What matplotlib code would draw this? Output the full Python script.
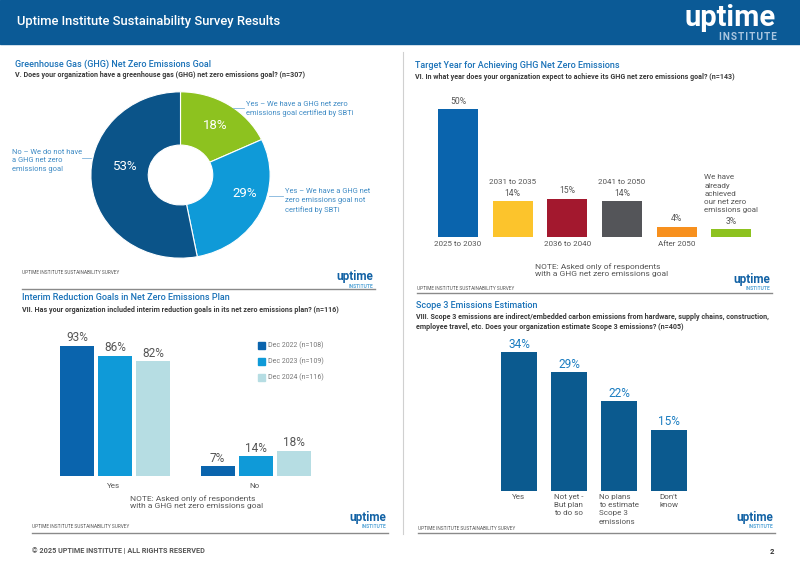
import numpy as np
import matplotlib.pyplot as plt
from matplotlib.patches import Rectangle
from matplotlib.lines import Line2D

plt.rcParams['font.family'] = ['Roboto', 'DejaVu Sans']

# --- data ---
ghg_labels = ['Yes – We have a GHG net zero\nemissions goal certified by SBTi',
              'Yes – We have a GHG net\nzero emissions goal not\ncertified by SBTi',
              'No – We do not have\na GHG net zero\nemissions goal']
ghg_vals = [18, 29, 53]
ghg_colors = ['#8dc21f', '#0f9ad8', '#0b5489']

year_cats = ['2025 to 2030', '2031 to 2035', '2036 to 2040', '2041 to 2050', 'After 2050',
             'We have\nalready\nachieved\nour net zero\nemissions goal']
year_vals = [50, 14, 15, 14, 4, 3]
year_colors = ['#0a64ad', '#fcc42c', '#a3182e', '#545559', '#f7901e', '#8dc21f']

interim_cats = ['Yes', 'No']
dec2022 = [93, 7]
dec2023 = [86, 14]
dec2024 = [82, 18]
interim_series = ['Dec 2022 (n=108)', 'Dec 2023 (n=109)', 'Dec 2024 (n=116)']
interim_colors = ['#0a64ad', '#0f9ad8', '#b6dde3']

scope_cats = ['Yes', 'Not yet -\nBut plan\nto do so', 'No plans\nto estimate\nScope 3\nemissions', "Don't\nknow"]
scope_vals = [34, 29, 22, 15]

HEAD = '#0b5a96'
BLUE_T = '#1a72b8'
SUB = '#3a3a3a'
GRAY = '#555555'

W, H = 800, 566
fig = plt.figure(figsize=(8, 5.66), dpi=100)


def fx(x):
    return x / W


def fy(y):
    return 1 - y / H


def box(x0, y0, x1, y1):
    return [x0 / W, 1 - y1 / H, (x1 - x0) / W, (y1 - y0) / H]


def txt(x, y, s, **kw):
    kw.setdefault('va', 'center')
    fig.text(fx(x), fy(y), s, **kw)


def hline(x0, x1, y, color='#8a8a8a', lw=1.0):
    fig.add_artist(Line2D([fx(x0), fx(x1)], [fy(y), fy(y)], color=color, lw=lw))


def spaced(s):
    return '\u200a'.join(s)


def footer(x0, x1, y_line, y_text, y_logo):
    txt(x0, y_text, 'UPTIME INSTITUTE SUSTAINABILITY SURVEY', fontsize=3.4, color='#555555')
    txt(x1 - 2, y_logo, 'uptime', fontsize=8.5, fontweight='bold', color='#1262a5', ha='right')
    txt(x1 - 2, y_logo + 9, 'INSTITUTE', fontsize=3.6, fontweight='bold', color='#5aa7d8', ha='right')
    hline(x0, x1, y_line)


# header
fig.add_artist(Rectangle((0, fy(44)), 1, 44 / H, transform=fig.transFigure, color=HEAD, zorder=0))
txt(17, 22, 'Uptime Institute Sustainability Survey Results', fontsize=9.4, fontweight='medium', color='white')
txt(776, 18, 'uptime', fontsize=21, fontweight='bold', color='white', ha='right')
txt(777, 37, spaced('INSTITUTE'), fontsize=7.2, fontweight='bold', color='#a9c6e0', ha='right')

# divider
fig.add_artist(Line2D([fx(403), fx(403)], [fy(52), fy(534)], color='#d0d0d0', lw=0.8))

# ---------- panel 1: donut ----------
txt(15, 64, 'Greenhouse Gas (GHG) Net Zero Emissions Goal', fontsize=6.5, fontweight='medium', color=BLUE_T)
txt(15, 75, 'V. Does your organization have a greenhouse gas (GHG) net zero emissions goal? (n=307)',
    fontsize=5.1, fontweight='bold', color=SUB)

ax1 = fig.add_axes(box(90, 91, 271, 259))
ax1.pie(ghg_vals, colors=ghg_colors, startangle=90, counterclock=False,
        wedgeprops=dict(width=0.64, edgecolor='white', linewidth=0.8))
ax1.set_aspect('auto')
ax1.set_xlim(-1.01, 1.01)
ax1.set_ylim(-1.01, 1.01)
pct_pos = [(0.385, 0.59), (0.72, -0.217), (-0.62, 0.108)]
for (px, py), v in zip(pct_pos, ghg_vals):
    ax1.text(px, py, f'{v}%', ha='center', va='center', fontsize=9.5, color='white')

lab_col = '#3d8ac4'
txt(246, 109, ghg_labels[0], fontsize=5.4, color=lab_col, linespacing=1.35)
hline(233, 244, 108, color='#7fb3dc', lw=0.6)
txt(285, 201, ghg_labels[1], fontsize=5.4, color=lab_col, linespacing=1.35)
hline(269, 283, 196, color='#7fb3dc', lw=0.6)
txt(12, 161, ghg_labels[2], fontsize=5.4, color=lab_col, linespacing=1.35)
hline(82, 91, 158, color='#7fb3dc', lw=0.6)

footer(22, 375, 289, 273, 277)

# ---------- panel 2: target year ----------
txt(415, 66, 'Target Year for Achieving GHG Net Zero Emissions', fontsize=6.5, fontweight='medium', color=BLUE_T)
txt(415, 77, 'VI. In what year does your organization expect to achieve its GHG net zero emissions goal? (n=143)',
    fontsize=5.1, fontweight='bold', color=SUB)

ax2 = fig.add_axes(box(430.6, 95, 758.8, 280))
ax2.axis('off')
ax2.set_xlim(-0.5, 5.5)
ax2.set_ylim(-43 / 2.56, 142 / 2.56)
x2 = np.arange(len(year_vals))
ax2.bar(x2, year_vals, width=0.73, color=year_colors)
for i, v in enumerate(year_vals):
    ax2.annotate(f'{v}%', (i, v), xytext=(0, 2.5), textcoords='offset points',
                 ha='center', va='bottom', fontsize=6.2, color=GRAY)
    if i % 2 == 0:
        ax2.annotate(year_cats[i], (i, 0), xytext=(0, -3), textcoords='offset points',
                     ha='center', va='top', fontsize=5.8, color=GRAY)
    else:
        ax2.annotate(year_cats[i], (i, v), xytext=(0, 11.5), textcoords='offset points',
                     ha='center', va='bottom', multialignment='left', fontsize=5.8,
                     color=GRAY, linespacing=1.45)
txt(535, 270, 'NOTE: Asked only of respondents\nwith a GHG net zero emissions goal',
    fontsize=6, color=GRAY, linespacing=1.3)

footer(417, 772, 293, 289, 279)

# ---------- panel 3: interim goals ----------
txt(22, 298, 'Interim Reduction Goals in Net Zero Emissions Plan', fontsize=6.5, fontweight='medium', color=BLUE_T)
txt(22, 310, 'VII. Has your organization included interim reduction goals in its net zero emissions plan? (n=116)',
    fontsize=5.1, fontweight='bold', color=SUB)

sp = 140.5
ax3 = fig.add_axes(box(30, 325, 390, 520))
ax3.axis('off')
ax3.set_xlim(-(115 - 30) / sp, (390 - 115) / sp)
ax3.set_ylim(-(520 - 476) / 1.4, (476 - 325) / 1.4)
x3 = np.arange(len(interim_cats))
offs = 38 / sp
for k, (vals, col) in enumerate(zip([dec2022, dec2023, dec2024], interim_colors)):
    xs = x3 + (k - 1) * offs
    ax3.bar(xs, vals, width=34 / sp, color=col)
    for xi, v in zip(xs, vals):
        ax3.annotate(f'{v}%', (xi, v), xytext=(0, 1), textcoords='offset points',
                     ha='center', va='bottom', fontsize=8.5, color=GRAY)
for xi, c in zip(x3, interim_cats):
    ax3.annotate(c, (xi, 0), xytext=(-1, -5), textcoords='offset points',
                 ha='center', va='top', fontsize=5.8, color=GRAY)

for k, (lab, col) in enumerate(zip(interim_series, interim_colors)):
    yc = 345 + 16 * k
    fig.add_artist(Rectangle((fx(258), fy(yc + 3.5)), 7 / W, 7 / H, transform=fig.transFigure, color=col))
    txt(268, yc, lab, fontsize=5, color='#777777')

txt(130, 502, 'NOTE: Asked only of respondents\nwith a GHG net zero emissions goal',
    fontsize=6, color=GRAY, linespacing=1.3)

footer(32, 388, 533, 527, 518)

# ---------- panel 4: scope 3 ----------
txt(416, 306, 'Scope 3 Emissions Estimation', fontsize=6.5, fontweight='medium', color=BLUE_T)
txt(416, 322, 'VIII. Scope 3 emissions are indirect/embedded carbon emissions from hardware, supply chains, construction,\n'
    'employee travel, etc. Does your organization estimate Scope 3 emissions? (n=405)',
    fontsize=5.1, fontweight='bold', color=SUB, linespacing=1.45)

ax4 = fig.add_axes(box(470, 335, 780, 530))
ax4.axis('off')
ax4.set_xlim(-(519 - 470) / 50, (780 - 519) / 50)
ax4.set_ylim(-(530 - 491) / 4.09, (491 - 335) / 4.09)
x4 = np.arange(len(scope_vals))
ax4.bar(x4, scope_vals, width=0.72, color='#0b5a8f')
for i, v in enumerate(scope_vals):
    ax4.annotate(f'{v}%', (i, v), xytext=(0, 1), textcoords='offset points',
                 ha='center', va='bottom', fontsize=8.5, color='#1a7cc0')
    ax4.annotate(scope_cats[i], (i, 0), xytext=(0, -2), textcoords='offset points',
                 ha='center', va='top', multialignment='left', fontsize=5.8,
                 color=GRAY, linespacing=1.45)

footer(418, 775, 533, 528, 518)

# bottom line
txt(32, 551, '© 2025 UPTIME INSTITUTE | ALL RIGHTS RESERVED', fontsize=5.2, fontweight='bold', color='#555555')
txt(774, 551, '2', fontsize=5.5, fontweight='bold', color='#333333', ha='right')

fig.savefig('out.png', dpi=100)
